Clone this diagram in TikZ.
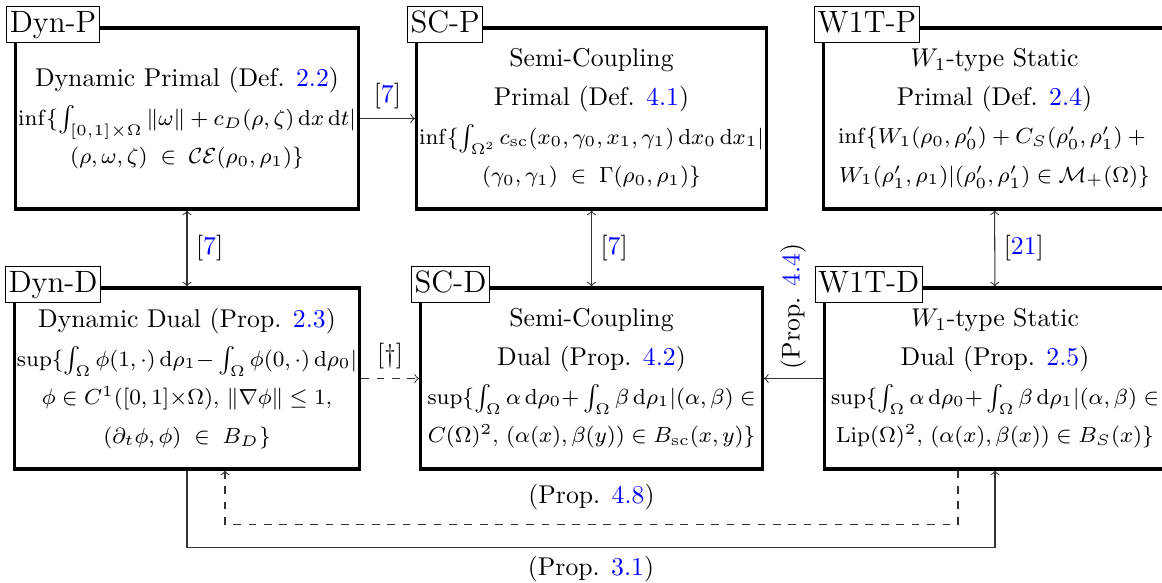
\RequirePackage{fix-cm}
\documentclass[tikz,border=0pt]{standalone}
\usetikzlibrary{calc}

\newcommand{\refno}[1]{\textcolor{blue}{#1}}
\newcommand{\dd}{\mathrm{d}}
\newcommand{\fml}{\fontsize{8.5}{10}\selectfont}

\tikzset{
  probbox/.style={draw, very thick, minimum width=133pt, minimum height=70.4pt,
    align=center, inner sep=1pt},
  tagbox/.style={draw, fill=white, font=\large, anchor=west, inner xsep=1.2pt,
    inner ysep=1.5pt, text height=8.5pt, text depth=2.5pt},
  conn/.style={draw=black!80},
}

\begin{document}
\begin{tikzpicture}[x=0.389pt, y=-0.389pt, >=to]
\useasboundingbox (0,0) rectangle (1162,583);

% primals
\node[probbox] (dynp) at (187,118.5) {Dynamic Primal (Def. \refno{2.2})\\[3pt]
  {\fml $\inf\{\int_{[0,1]\times\Omega}\|\omega\|+c_D(\rho,\zeta)\,\dd x\,\dd t|$}\\[3pt]
  {\fml $(\rho,\omega,\zeta)\;\in\;\mathcal{CE}(\rho_0,\rho_1)\}$}};
\node[probbox] (scp) at (591.5,118.5) {Semi-Coupling\\[3pt] Primal (Def. \refno{4.1})\\[3pt]
  {\fml $\inf\{\int_{\Omega^2}c_{\mathrm{sc}}(x_0,\gamma_0,x_1,\gamma_1)\,\dd x_0\,\dd x_1|$}\\[3pt]
  {\fml $(\gamma_0,\gamma_1)\;\in\;\Gamma(\rho_0,\rho_1)\}$}};
\node[probbox] (w1tp) at (994.5,118.5) {$W_1$-type Static\\[3pt] Primal (Def. \refno{2.4})\\[3pt]
  {\fml $\inf\{W_1(\rho_0,\rho_0')+C_S(\rho_0',\rho_1')+{}$}\\[3pt]
  {\fml $W_1(\rho_1',\rho_1)|(\rho_0',\rho_1')\in\mathcal{M}_+(\Omega)\}$}};

% duals
\node[probbox] (dynd) at (187,378.5) {Dynamic Dual (Prop. \refno{2.3})\\[3pt]
  {\fml $\sup\{\int_\Omega\phi(1,\cdot)\,\dd\rho_1{-}\int_\Omega\phi(0,\cdot)\,\dd\rho_0|$}\\[3pt]
  {\fml $\phi\in C^1([0,1]{\times}\Omega)$, $\|\nabla\phi\|\leq 1$,}\\[3pt]
  {\fml $(\partial_t\phi,\phi)\;\in\;B_D\}$}};
\node[probbox] (scd) at (591.5,378.5) {Semi-Coupling\\[3pt] Dual (Prop. \refno{4.2})\\[3pt]
  {\fml $\sup\{\int_\Omega\alpha\,\dd\rho_0{+}\int_\Omega\beta\,\dd\rho_1|(\alpha,\beta)\in$}\\[3pt]
  {\fml $C(\Omega)^2$, $(\alpha(x),\beta(y))\in B_{\mathrm{sc}}(x,y)\}$}};
\node[probbox] (w1td) at (995,378.5) {$W_1$-type Static\\[3pt] Dual (Prop. \refno{2.5})\\[3pt]
  {\fml $\sup\{\int_\Omega\alpha\,\dd\rho_0{+}\int_\Omega\beta\,\dd\rho_1|(\alpha,\beta)\in$}\\[3pt]
  {\fml $\mathrm{Lip}(\Omega)^2$, $(\alpha(x),\beta(x))\in B_S(x)\}$}};

% tags
\node[tagbox] (dynptag) at ([xshift=-3.1pt,yshift=0.6pt]dynp.north west) {Dyn-P};
\node[tagbox] (scptag) at ([xshift=-3.1pt,yshift=0.6pt]scp.north west) {SC-P};
\node[tagbox] (w1tptag) at ([xshift=-3.1pt,yshift=0.6pt]w1tp.north west) {W1T-P};
\node[tagbox] (dyndtag) at ([xshift=-3.1pt,yshift=0.6pt]dynd.north west) {Dyn-D};
\node[tagbox] (scdtag) at ([xshift=-3.1pt,yshift=0.6pt]scd.north west) {SC-D};
\node[tagbox] (w1tdtag) at ([xshift=-3.1pt,yshift=0.6pt]w1td.north west) {W1T-D};

% equivalences
\draw[conn,<->] (dynp) -- node[right] {[\refno{7}]} (dynd);
\draw[conn,<->] (scp) -- node[right] {[\refno{7}]} (scd);
\draw[conn,<->] (w1tp) -- node[right] {[\refno{21}]} (w1td);

\draw[conn,->] (dynp) -- node[above] {[\refno{7}]} (scp);
\draw[conn,dashed,->] (dynd) -- node[above] {[\dag]} (scd);
\draw[conn,->] (w1td) -- node[rotate=90,anchor=west] {(Prop. \refno{4.4})} (scd);

% liens du bas
\draw[conn,->] (dynd.south) -- ++(0,77) -| node[pos=0.25,below] {(Prop. \refno{3.1})} (w1td.south);
\draw[conn,dashed,->] ($(w1td.south)+(-37,0)$) -- ++(0,54)
  -| node[pos=0.25,above,yshift=2pt] {(Prop. \refno{4.8})} ($(dynd.south)+(38,0)$);
\end{tikzpicture}
\end{document}
